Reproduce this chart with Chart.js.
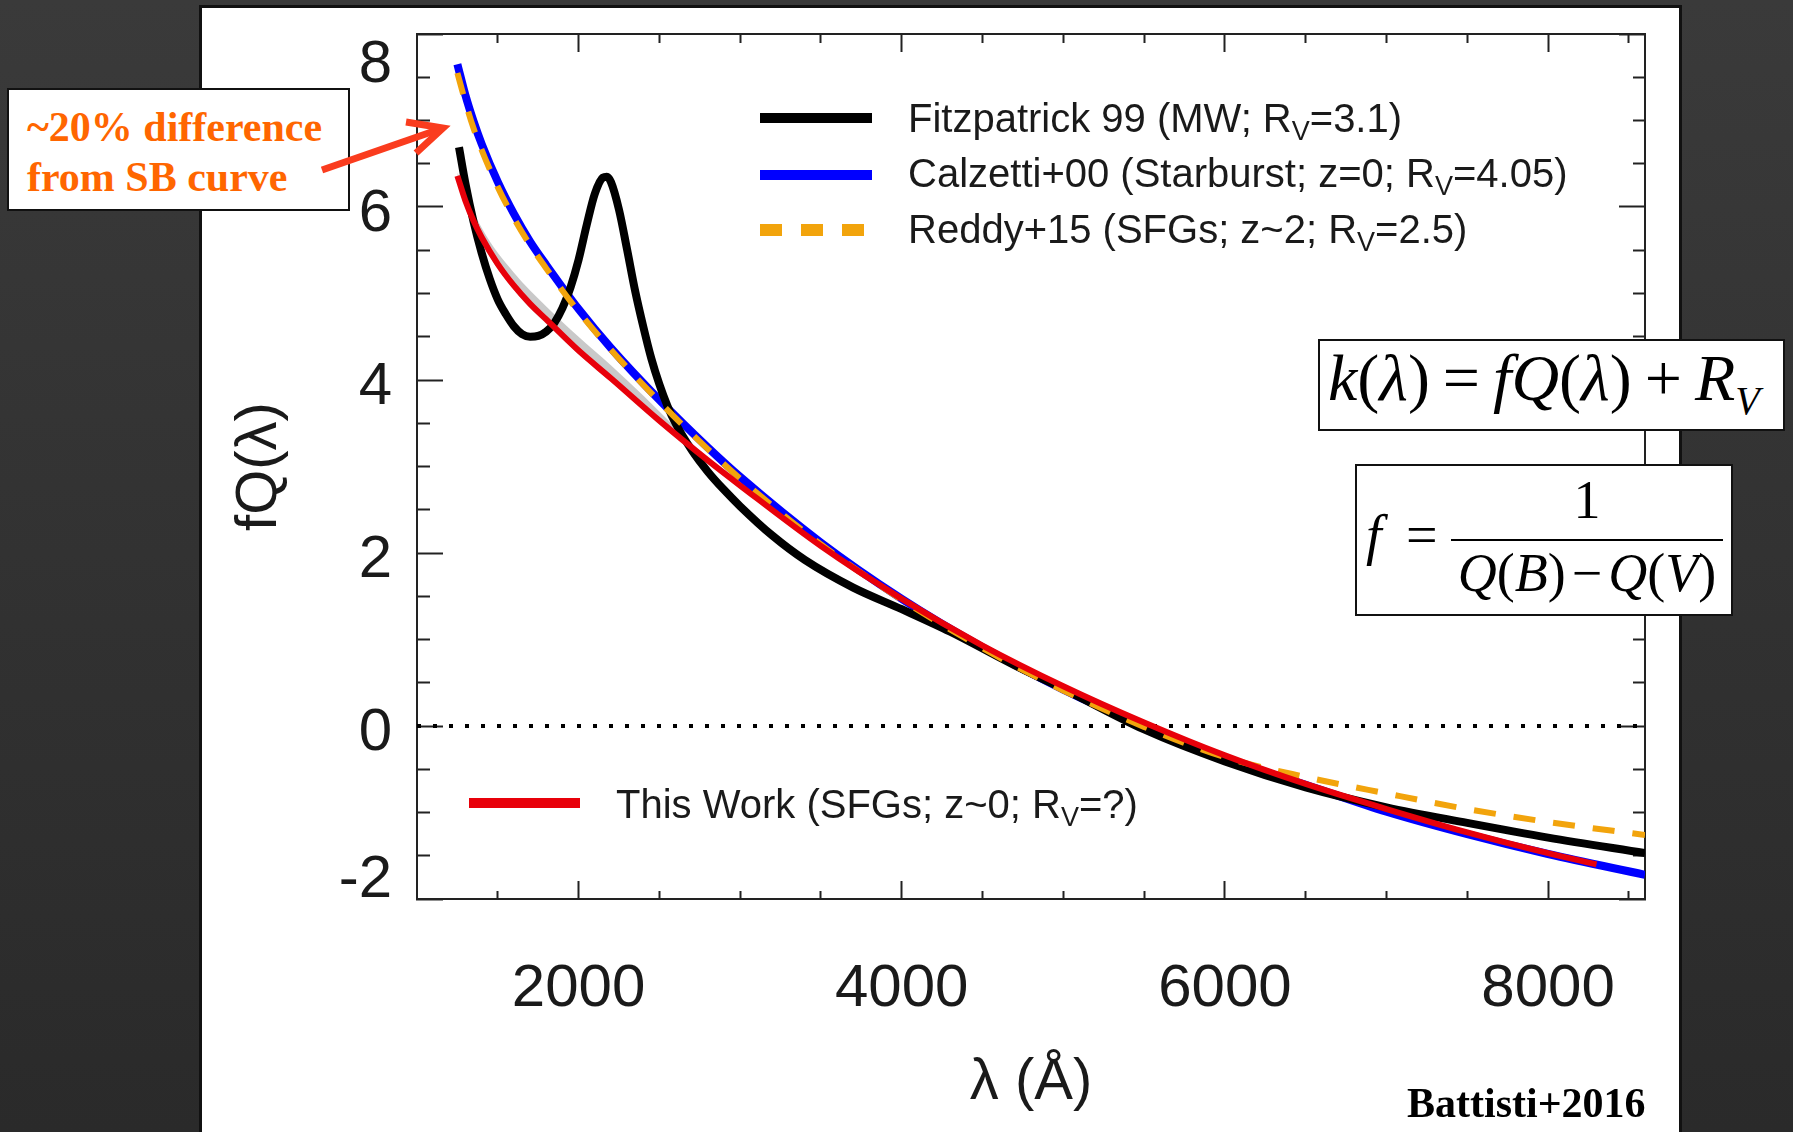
<!DOCTYPE html>
<html>
<head>
<meta charset="utf-8">
<title>fQ(λ) dust curves</title>
<script src="https://cdn.jsdelivr.net/npm/chart.js@4.4.1/dist/chart.umd.min.js"></script>
<style>
  html, body { margin: 0; padding: 0; }
  body {
    width: 1793px; height: 1132px; overflow: hidden; position: relative;
    background: linear-gradient(to bottom, #3a3a3a 0%, #313131 55%, #2a2a2a 100%);
  }
  #panel { position: absolute; left: 199px; top: 5px; width: 1477px; height: 1200px; background: #fff; border: 3px solid #111; }
  #chart-wrap { position: absolute; left: 0; top: 0; width: 1793px; height: 1132px; }
  .abs { position: absolute; white-space: nowrap; }
  .leg { font-family: 'Liberation Sans', Arial, Helvetica, sans-serif; font-size: 40px; line-height: 40px; color: #1a1a1a; }
  .leg sub { font-size: 27px; line-height: 0; vertical-align: -0.3em; }
  .swatch { position: absolute; height: 10px; }
  .serif { font-family: 'Liberation Serif', 'Times New Roman', serif; color: #000; }
  .box { position: absolute; background: #fff; border: 2px solid #111; box-sizing: border-box; }
  .op { font-style: normal; margin: 0 13px; }
  #overlay { position: absolute; left: 0; top: 0; pointer-events: none; }
</style>
</head>
<body>
<div id="panel"></div>
<div id="chart-wrap"><canvas id="chart"></canvas></div>

<!-- legends -->
<div class="swatch" style="left:760px; top:113px; width:112px; background:#000;"></div>
<div class="abs leg" style="left:908px; top:98px;">Fitzpatrick 99 (MW; R<sub>V</sub>=3.1)</div>
<div class="swatch" style="left:760px; top:170px; width:112px; background:#0000ff;"></div>
<div class="abs leg" style="left:908px; top:153px;">Calzetti+00 (Starburst; z=0; R<sub>V</sub>=4.05)</div>
<div class="swatch" style="left:760px; top:224px; width:105px; height:12px; background:repeating-linear-gradient(to right, #f2a40c 0 22px, transparent 22px 41px);"></div>
<div class="abs leg" style="left:908px; top:209px;">Reddy+15 (SFGs; z~2; R<sub>V</sub>=2.5)</div>
<div class="swatch" style="left:469px; top:798px; width:111px; background:#e8000a;"></div>
<div class="abs leg" style="left:616px; top:784px;">This Work (SFGs; z~0; R<sub>V</sub>=?)</div>

<!-- note box + arrow -->
<div class="box" style="left:7px; top:88px; width:343px; height:123px;"></div>
<div class="abs serif" style="left:27px; top:102px; font-size:42px; line-height:50px; font-weight:bold; color:#ff6600;">~20% difference<br>from SB curve</div>
<svg id="overlay" width="1793" height="1132">
  <g stroke="#fa3c1e" stroke-width="7" fill="none" stroke-linecap="butt" stroke-linejoin="miter">
    <line x1="322" y1="170" x2="440" y2="129"/>
    <polyline points="406,122 443,128 416,153"/>
  </g>
</svg>

<!-- equations -->
<div class="box" style="left:1318px; top:339px; width:467px; height:92px;"></div>
<div class="abs serif" style="left:1328px; top:345px; font-size:66px; line-height:66px;"><i>k</i>(<i>λ</i>)<span class="op">=</span><i>fQ</i>(<i>λ</i>)<span class="op">+</span><i>R</i><sub style="font-size:40px; line-height:0; vertical-align:-0.35em;"><i>V</i></sub></div>

<div class="box" style="left:1355px; top:464px; width:378px; height:152px;"></div>
<div class="abs serif" style="left:1366px; top:507px; font-size:56px; line-height:56px;"><i>f</i></div>
<div class="abs serif" style="left:1406px; top:507px; font-size:56px; line-height:56px;">=</div>
<div class="abs serif" style="left:1451px; top:473px; width:272px; text-align:center; font-size:54px; line-height:54px;">1</div>
<div class="abs" style="left:1451px; top:539px; width:272px; height:2px; background:#000;"></div>
<div class="abs serif" style="left:1451px; top:546px; width:272px; text-align:center; font-size:54px; line-height:54px;"><i>Q</i>(<i>B</i>)<span style="margin:0 6px;">−</span><i>Q</i>(<i>V</i>)</div>

<div class="abs serif" style="left:1407px; top:1082px; font-size:42px; line-height:42px; font-weight:bold;">Battisti+2016</div>

<script>
// wavelengths in Angstrom, values are fQ(lambda)
const fitzLambda = [1260, 1300, 1350, 1400, 1450, 1500, 1550, 1600, 1650, 1700, 1750, 1800, 1850, 1900, 1950,
  2000, 2050, 2100, 2150, 2175, 2200, 2250, 2300, 2350, 2400, 2450, 2500, 2550, 2600, 2700, 2800, 2900,
  3000, 3200, 3400, 3700, 4000, 4300, 4700, 5000, 5500, 6000, 6500, 7000, 7500, 8000, 8600];
const fitzValues = [6.69, 6.27, 5.83, 5.47, 5.17, 4.93, 4.76, 4.62, 4.53, 4.50, 4.51, 4.56, 4.66, 4.83, 5.07,
  5.39, 5.79, 6.15, 6.34, 6.35, 6.29, 5.97, 5.51, 5.03, 4.62, 4.25, 3.95, 3.70, 3.50, 3.19, 2.94, 2.73,
  2.54, 2.20, 1.92, 1.60, 1.35, 1.09, 0.70, 0.43, -0.04, -0.41, -0.71, -0.94, -1.12, -1.29, -1.47];

const calzLambda = [1250, 1300, 1350, 1400, 1500, 1600, 1700, 1800, 2000, 2200, 2500, 2800, 3000, 3500,
  4000, 4500, 5000, 5500, 6000, 6300, 6500, 7000, 7500, 8000, 8600];
const calzValues = [7.65, 7.29, 6.99, 6.73, 6.29, 5.92, 5.60, 5.33, 4.82, 4.37, 3.77, 3.22, 2.88, 2.12,
  1.47, 0.91, 0.42, 0.00, -0.37, -0.56, -0.68, -0.99, -1.25, -1.48, -1.72];

const reddyLambda = [1250, 1300, 1350, 1400, 1500, 1600, 1700, 1800, 2000, 2200, 2500, 2800, 3000, 3500,
  4000, 4500, 5000, 5500, 6000, 6500, 7000, 7500, 8000, 8600];
const reddyValues = [7.55, 7.21, 6.91, 6.66, 6.23, 5.87, 5.56, 5.29, 4.79, 4.35, 3.75, 3.20, 2.86, 2.10,
  1.46, 0.90, 0.41, -0.01, -0.36, -0.59, -0.78, -0.96, -1.11, -1.26];

const thisWorkLambda = [1250, 1300, 1350, 1400, 1500, 1600, 1700, 1800, 2000, 2200, 2500, 2800, 3000, 3500,
  4000, 4500, 5000, 5500, 6000, 6500, 7000, 7500, 8000, 8300];
const thisWorkValues = [6.36, 6.07, 5.84, 5.65, 5.34, 5.09, 4.88, 4.70, 4.34, 4.02, 3.53, 3.07, 2.78, 2.08,
  1.47, 0.93, 0.46, 0.04, -0.34, -0.67, -0.96, -1.23, -1.47, -1.60];

// grey uncertainty band around this work
const bandLambda = [1250, 1400, 1600, 1800, 2000, 2200, 2400, 2600, 2800];
const bandUpper = [6.40, 5.76, 5.24, 4.85, 4.50, 4.17, 3.82, 3.45, 3.09];
const bandLower = [6.33, 5.60, 5.04, 4.65, 4.30, 3.98, 3.67, 3.35, 3.06];

const zeroLambda = [1000, 8600];
const zeroValues = [0, 0];

// tick positions (every 500 A, labelled every 2000 A)
const xTicks = [1500, 2000, 2500, 3000, 3500, 4000, 4500, 5000, 5500, 6000, 6500, 7000, 7500, 8000, 8500];
const xMajorTicks = [2000, 4000, 6000, 8000];
const yMajorTicks = [-2, 0, 2, 4, 6, 8];

const AXIS_FONT = "'Liberation Sans', Arial, Helvetica, sans-serif";
const INK = '#1a1a1a';

function pts(xs, ys) {
    return xs.map((x, i) => ({ x: x, y: ys[i] }));
}

function isMajor(ctx, list) {
    return ctx.tick && list.includes(ctx.tick.value);
}

const line = (data, color, width, order, extra) => Object.assign({
    data: data, borderColor: color, borderWidth: width, order: order,
    pointRadius: 0, fill: false, cubicInterpolationMode: 'monotone'
}, extra || {});

const datasets = [
    line(pts(thisWorkLambda, thisWorkValues), '#e8000a', 6, 0, { label: 'This Work (SFGs; z~0; Rv=?)' }),
    line(pts(reddyLambda, reddyValues), '#f2a40c', 6, 1, { label: 'Reddy+15', borderDash: [22, 18] }),
    line(pts(fitzLambda, fitzValues), '#000000', 8, 2, { label: 'Fitzpatrick 99' }),
    line(pts(calzLambda, calzValues), '#0000ff', 8, 3, { label: 'Calzetti+00' }),
    line(pts(zeroLambda, zeroValues), '#000000', 4, 4, { label: 'zero', borderDash: [4, 12], cubicInterpolationMode: 'default' }),
    line(pts(bandLambda, bandUpper), 'rgba(0,0,0,0)', 0, 5, { label: 'band', fill: '+1', backgroundColor: 'rgba(165,165,165,0.6)' }),
    line(pts(bandLambda, bandLower), 'rgba(0,0,0,0)', 0, 6, { label: 'band low' })
];

const tickCommon = { tickWidth: 2, tickColor: '#222', drawOnChartArea: false };
const borderCommon = { display: true, color: '#222', width: 2 };

// fixed box sizes so the plot frame lands where the figure has it
function fixBox(size) {
    return s => {
        if (s.isHorizontal()) s.height = size; else s.width = size;
        s.paddingTop = 0; s.paddingBottom = 0; s.paddingLeft = 0; s.paddingRight = 0;
    };
}

const setXTicks = s => { s.ticks = xTicks.map(v => ({ value: v })); };

new Chart(document.getElementById('chart'), {
    type: 'line',
    data: { datasets: datasets },
    options: {
        responsive: true,
        maintainAspectRatio: false,
        animation: false,
        layout: { padding: 0 },
        plugins: { legend: { display: false }, tooltip: { enabled: false } },
        scales: {
            x: {
                type: 'linear', position: 'bottom', min: 1000, max: 8600,
                afterBuildTicks: setXTicks,
                afterFit: fixBox(233),
                ticks: {
                    autoSkip: false, minRotation: 0, maxRotation: 0,
                    padding: 72, color: INK, font: { family: AXIS_FONT, size: 60 },
                    callback: v => xMajorTicks.includes(v) ? String(v) : ''
                },
                grid: Object.assign({}, tickCommon, {
                    tickLength: -18,
                    tickBorderDash: c => isMajor(c, xMajorTicks) ? [] : [9, 100]
                }),
                border: borderCommon,
                title: {
                    display: true, text: 'λ (Å)', color: INK,
                    font: { family: AXIS_FONT, size: 58 }, padding: { top: 0, bottom: 14 }
                }
            },
            x2: {
                type: 'linear', position: 'top', min: 1000, max: 8600,
                afterBuildTicks: setXTicks,
                afterFit: fixBox(34),
                ticks: { autoSkip: false, display: false },
                grid: Object.assign({}, tickCommon, {
                    tickLength: -18,
                    tickBorderDash: c => isMajor(c, xMajorTicks) ? [] : [9, 9],
                    tickBorderDashOffset: c => isMajor(c, xMajorTicks) ? 0 : 9
                }),
                border: borderCommon
            },
            y: {
                type: 'linear', position: 'left', min: -2, max: 8,
                afterFit: fixBox(417),
                ticks: {
                    stepSize: 0.5, autoSkip: false, padding: 51, labelOffset: 7, color: INK,
                    font: c => {
                        const v = c.tick ? c.tick.value : null;
                        return { family: AXIS_FONT, size: 60, lineHeight: v === 8 ? '48px' : (v === -2 ? '52px' : 1.2) };
                    },
                    callback: v => {
                        if (!yMajorTicks.includes(v)) return '';
                        if (v === 8) return ['', '8'];
                        if (v === -2) return ['-2', ''];
                        return String(v);
                    }
                },
                grid: Object.assign({}, tickCommon, {
                    tickLength: -26,
                    tickBorderDash: c => isMajor(c, yMajorTicks) ? [] : [13, 13],
                    tickBorderDashOffset: c => isMajor(c, yMajorTicks) ? 0 : 13
                }),
                border: borderCommon,
                title: {
                    display: true, text: 'fQ(λ)', color: INK,
                    font: { family: AXIS_FONT, size: 58 }, padding: { top: 225, bottom: 0 }
                }
            },
            y2: {
                type: 'linear', position: 'right', min: -2, max: 8,
                afterFit: fixBox(148),
                ticks: { stepSize: 0.5, autoSkip: false, display: false },
                grid: Object.assign({}, tickCommon, {
                    tickLength: -26,
                    tickBorderDash: c => isMajor(c, yMajorTicks) ? [] : [13, 100]
                }),
                border: borderCommon
            }
        }
    }
});
</script>
</body>
</html>
